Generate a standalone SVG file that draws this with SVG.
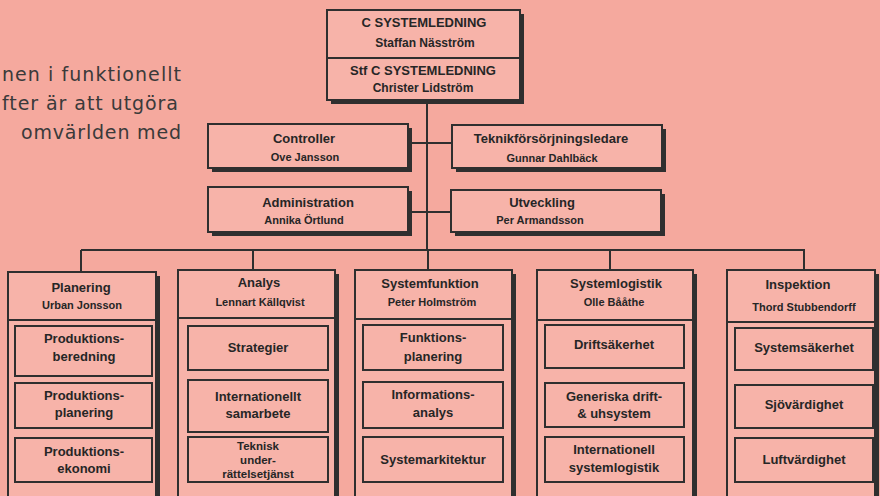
<svg xmlns="http://www.w3.org/2000/svg" width="880" height="496" viewBox="0 0 880 496">
<style>
.bg{fill:#F5A99E}
.box{fill:#F7B3A9;stroke:#2f2f2f;stroke-width:2}
.sub{fill:#F7B3A9;stroke:#2f2f2f;stroke-width:2}
.sh{fill:#2f2f2f}
.ln{stroke:#2f2f2f;stroke-width:2;fill:none}
.t{font-family:"Liberation Sans",Arial,sans-serif;font-weight:bold;fill:#262626;text-anchor:middle}
.h{font-size:13px}
.n{font-size:11px}
.s{font-size:13px}
.xs{font-size:11.5px}
.p{font-family:"DejaVu Sans","Noto Sans",sans-serif;font-size:19px;fill:#3a3a3a;text-anchor:end}
</style>
<rect class="bg" x="0" y="0" width="880" height="496"/>

<g id="intro">
<text class="p" x="181" y="81" textLength="179">nen i funktionellt</text>
<text class="p" x="178" y="110" textLength="176">fter är att utgöra</text>
<text class="p" x="181" y="139" textLength="160">omvärlden med</text>
</g>

<g id="connectors">
<line class="ln" x1="427" y1="100" x2="427" y2="250"/>
<line class="ln" x1="410" y1="143" x2="452" y2="143"/>
<line class="ln" x1="410" y1="212" x2="451" y2="212"/>
<line class="ln" x1="81" y1="250" x2="805" y2="250"/>
<line class="ln" x1="81" y1="250" x2="81" y2="272"/>
<line class="ln" x1="253" y1="250" x2="253" y2="270"/>
<line class="ln" x1="428" y1="250" x2="428" y2="270"/>
<line class="ln" x1="610" y1="250" x2="610" y2="270"/>
<line class="ln" x1="804" y1="250" x2="804" y2="270"/>
</g>

<g id="systemledning">
<rect class="sh" x="331" y="14" width="193" height="90"/>
<rect class="box" x="327" y="10" width="193" height="90"/>
<line class="ln" x1="327" y1="58" x2="520" y2="58"/>
<text class="t h" x="424" y="27">C SYSTEMLEDNING</text>
<text class="t n" x="425" y="47" style="font-size:12px">Staffan Näsström</text>
<text class="t h" x="423" y="75">Stf C SYSTEMLEDNING</text>
<text class="t n" x="423" y="92" style="font-size:12px">Christer Lidström</text>
</g>

<g id="controller">
<rect class="sh" x="212" y="128" width="200" height="44"/>
<rect class="box" x="208" y="124" width="200" height="44"/>
<text class="t h" x="304" y="143">Controller</text>
<text class="t n" x="305" y="161">Ove Jansson</text>
</g>

<g id="teknik">
<rect class="sh" x="456" y="129" width="210" height="43"/>
<rect class="box" x="452" y="125" width="210" height="43"/>
<text class="t h" x="551" y="143">Teknikförsörjningsledare</text>
<text class="t n" x="552" y="162">Gunnar Dahlbäck</text>
</g>

<g id="administration">
<rect class="sh" x="212" y="191" width="200" height="45"/>
<rect class="box" x="208" y="187" width="200" height="45"/>
<text class="t h" x="308" y="207">Administration</text>
<text class="t n" x="304" y="224">Annika Örtlund</text>
</g>

<g id="utveckling">
<rect class="sh" x="455" y="194" width="210" height="42"/>
<rect class="box" x="451" y="190" width="210" height="42"/>
<text class="t h" x="542" y="207">Utveckling</text>
<text class="t n" x="540" y="224">Per Armandsson</text>
</g>

<g id="planering">
<rect class="sh" x="12" y="276" width="148" height="230"/>
<rect class="box" x="8" y="272" width="148" height="230"/>
<line class="ln" x1="8" y1="320" x2="156" y2="320"/>
<text class="t h" x="81" y="292">Planering</text>
<text class="t n" x="82" y="309">Urban Jonsson</text>
<rect class="sub" x="15" y="326" width="137" height="50"/>
<text class="t s" x="84" y="343">Produktions-</text>
<text class="t s" x="84" y="361">beredning</text>
<rect class="sub" x="15" y="383" width="137" height="45"/>
<text class="t s" x="84" y="400">Produktions-</text>
<text class="t s" x="84" y="417">planering</text>
<rect class="sub" x="15" y="438" width="137" height="44"/>
<text class="t s" x="84" y="456">Produktions-</text>
<text class="t s" x="84" y="473">ekonomi</text>
</g>

<g id="analys">
<rect class="sh" x="182" y="274" width="157" height="230"/>
<rect class="box" x="178" y="270" width="157" height="230"/>
<line class="ln" x1="178" y1="318" x2="335" y2="318"/>
<text class="t h" x="259" y="287">Analys</text>
<text class="t n" x="260" y="306">Lennart Källqvist</text>
<rect class="sub" x="188" y="326" width="140" height="44"/>
<text class="t s" x="258" y="352">Strategier</text>
<rect class="sub" x="188" y="380" width="140" height="52"/>
<text class="t s" x="258" y="401">Internationellt</text>
<text class="t s" x="258" y="418">samarbete</text>
<rect class="sub" x="188" y="437" width="140" height="45"/>
<text class="t xs" x="258" y="450">Teknisk</text>
<text class="t xs" x="258" y="464">under-</text>
<text class="t xs" x="258" y="478">rättelsetjänst</text>
</g>

<g id="systemfunktion">
<rect class="sh" x="359" y="274" width="157" height="230"/>
<rect class="box" x="355" y="270" width="157" height="230"/>
<line class="ln" x1="355" y1="319" x2="512" y2="319"/>
<text class="t h" x="430" y="288">Systemfunktion</text>
<text class="t n" x="432" y="306">Peter Holmström</text>
<rect class="sub" x="363" y="325" width="140" height="45"/>
<text class="t s" x="433" y="342">Funktions-</text>
<text class="t s" x="433" y="361">planering</text>
<rect class="sub" x="363" y="382" width="140" height="46"/>
<text class="t s" x="433" y="399">Informations-</text>
<text class="t s" x="433" y="417">analys</text>
<rect class="sub" x="363" y="437" width="140" height="45"/>
<text class="t s" x="433" y="464">Systemarkitektur</text>
</g>

<g id="systemlogistik">
<rect class="sh" x="541" y="274" width="156" height="230"/>
<rect class="box" x="537" y="270" width="156" height="230"/>
<line class="ln" x1="537" y1="320" x2="693" y2="320"/>
<text class="t h" x="616" y="288">Systemlogistik</text>
<text class="t n" x="614" y="306">Olle Bååthe</text>
<rect class="sub" x="545" y="325" width="139" height="43"/>
<text class="t s" x="614" y="349">Driftsäkerhet</text>
<rect class="sub" x="545" y="383" width="139" height="44"/>
<text class="t s" x="614" y="401">Generiska drift-</text>
<text class="t s" x="614" y="418">&amp; uhsystem</text>
<rect class="sub" x="545" y="437" width="139" height="45"/>
<text class="t s" x="614" y="454">Internationell</text>
<text class="t s" x="614" y="472">systemlogistik</text>
</g>

<g id="inspektion">
<rect class="sh" x="731" y="274" width="148" height="230"/>
<rect class="box" x="727" y="270" width="148" height="230"/>
<line class="ln" x1="727" y1="322" x2="875" y2="322"/>
<text class="t h" x="798" y="289">Inspektion</text>
<text class="t n" x="804" y="311">Thord Stubbendorff</text>
<rect class="sub" x="735" y="328" width="138" height="42"/>
<text class="t s" x="804" y="352">Systemsäkerhet</text>
<rect class="sub" x="735" y="385" width="138" height="43"/>
<text class="t s" x="804" y="409">Sjövärdighet</text>
<rect class="sub" x="735" y="438" width="138" height="44"/>
<text class="t s" x="804" y="464">Luftvärdighet</text>
</g>
</svg>
